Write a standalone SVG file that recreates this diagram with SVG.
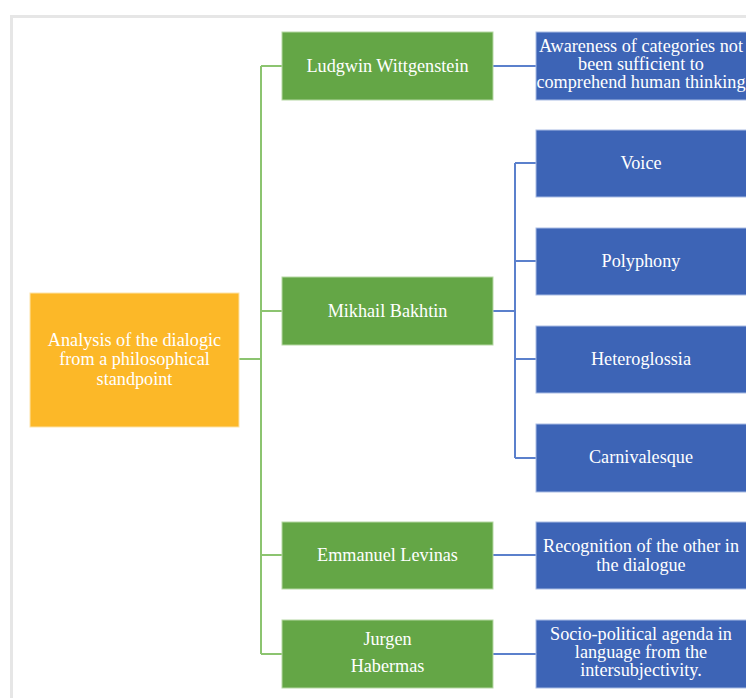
<svg xmlns="http://www.w3.org/2000/svg" width="746" height="698" viewBox="0 0 746 698">
<style>
.root{fill:#FCB828;stroke:#FDE3A8;stroke-width:1}
.g{fill:#64A646;stroke:#B5D8A3;stroke-width:1}
.b{fill:#3D64B6;stroke:#A9BCE4;stroke-width:1}
text{font-family:"Liberation Serif","Times New Roman",serif;font-size:18.2px;fill:#FFFFFF;text-anchor:middle}
.gc{fill:none;stroke:#8CC470;stroke-width:2}
.bc{fill:none;stroke:#5B80CC;stroke-width:2}
</style>
<rect width="746" height="698" fill="#FFFFFF"/>
<path d="M11.5 698 V16.5 H746" fill="none" stroke="#E6E6E6" stroke-width="3"/>
<g id="connectors">
<path class="gc" d="M239 359 H261 M261 66 V654 M261 66 H282 M261 311 H282 M261 555 H282 M261 654 H282"/>
<path class="bc" d="M493 66 H536 M493 311 H515 M515 163 V458 M515 163 H536 M515 261 H536 M515 359 H536 M515 458 H536 M493 555 H536 M493 654 H536"/>
</g>
<g id="root">
<rect class="root" x="30" y="293" width="209" height="134"/>
<text x="134.5" y="346">Analysis of the dialogic</text>
<text x="134.5" y="365">from a philosophical</text>
<text x="134.5" y="385">standpoint</text>
</g>
<g id="wittgenstein">
<rect class="g" x="282" y="32" width="211" height="68"/>
<text x="387.5" y="72">Ludgwin Wittgenstein</text>
</g>
<g id="bakhtin">
<rect class="g" x="282" y="277" width="211" height="68"/>
<text x="387.5" y="317">Mikhail Bakhtin</text>
</g>
<g id="levinas">
<rect class="g" x="282" y="522" width="211" height="67"/>
<text x="387.5" y="561">Emmanuel Levinas</text>
</g>
<g id="habermas">
<rect class="g" x="282" y="620" width="211" height="68"/>
<text x="387.5" y="645">Jurgen</text>
<text x="387.5" y="672">Habermas</text>
</g>
<g id="awareness">
<rect class="b" x="536" y="32" width="215" height="68"/>
<text x="641" y="52">Awareness of categories not</text>
<text x="641" y="70">been sufficient to</text>
<text x="641" y="88">comprehend human thinking</text>
</g>
<g id="voice">
<rect class="b" x="536" y="130" width="215" height="67"/>
<text x="641" y="169">Voice</text>
</g>
<g id="polyphony">
<rect class="b" x="536" y="228" width="215" height="67"/>
<text x="641" y="267">Polyphony</text>
</g>
<g id="heteroglossia">
<rect class="b" x="536" y="326" width="215" height="67"/>
<text x="641" y="365">Heteroglossia</text>
</g>
<g id="carnivalesque">
<rect class="b" x="536" y="424" width="215" height="68"/>
<text x="641" y="463">Carnivalesque</text>
</g>
<g id="recognition">
<rect class="b" x="536" y="522" width="215" height="67"/>
<text x="641" y="552">Recognition of the other in</text>
<text x="641" y="571">the dialogue</text>
</g>
<g id="sociopolitical">
<rect class="b" x="536" y="620" width="215" height="68"/>
<text x="641" y="640">Socio-political agenda in</text>
<text x="641" y="658">language from the</text>
<text x="641" y="676">intersubjectivity.</text>
</g>
</svg>
